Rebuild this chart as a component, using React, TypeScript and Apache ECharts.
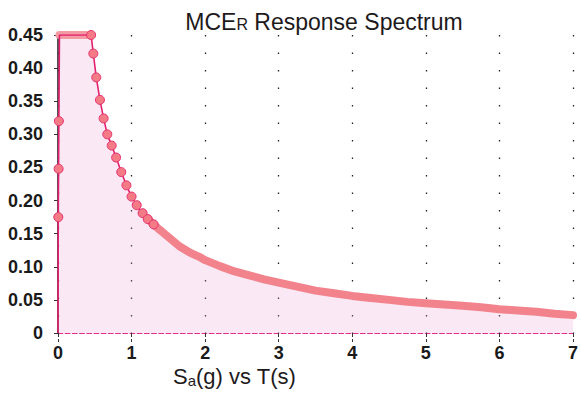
import React, { useEffect, useRef } from "react";
import * as echarts from "echarts";

// Period T (s) and spectral acceleration Sa (g)
const PERIOD_T = [
  0, 0.004, 0.008, 0.012, 0.02, 0.05, 0.1, 0.15, 0.2, 0.25, 0.3, 0.35, 0.4, 0.45,
  0.48, 0.52, 0.57, 0.62, 0.67, 0.73, 0.79, 0.86, 0.93, 1.0, 1.07, 1.15, 1.22, 1.3,
  1.38, 1.5, 1.65, 1.8, 1.92, 2.0, 2.2, 2.4, 2.6, 2.8, 3.0, 3.25, 3.5, 3.75, 4.0,
  4.25, 4.5, 4.75, 5.0, 5.25, 5.5, 5.75, 6.0, 6.25, 6.5, 6.75, 7.0,
];
const SA_G = [
  0, 0.175, 0.248, 0.32, 0.45, 0.45, 0.45, 0.45, 0.45, 0.45, 0.45, 0.45, 0.45, 0.45,
  0.422, 0.386, 0.352, 0.324, 0.3, 0.283, 0.265, 0.243, 0.223, 0.206, 0.193, 0.181, 0.172, 0.164,
  0.156, 0.145, 0.131, 0.121, 0.115, 0.11, 0.101, 0.093, 0.087, 0.081, 0.076, 0.07, 0.064, 0.06, 0.056,
  0.053, 0.05, 0.047, 0.045, 0.043, 0.041, 0.039, 0.036, 0.034, 0.032, 0.029, 0.027,
];
const X_TICKS = [0, 1, 2, 3, 4, 5, 6, 7];
const Y_TICKS = ["0", "0.05", "0.10", "0.15", "0.20", "0.25", "0.30", "0.35", "0.40", "0.45"];

const PLATEAU_START_T = 0.02;
const PLATEAU_END_T = 0.45;
const MARKER_END_T = 1.3;
const BAND_START_T = 1.22;

export default function App() {
  const ref = useRef<HTMLDivElement>(null);
  useEffect(() => {
    if (!ref.current) return;
    const chart = echarts.init(ref.current, undefined, { renderer: "svg" });
    const all = PERIOD_T.map((t, i) => [t, SA_G[i]]);
    const markerData = all
      .filter((p) => p[0] <= MARKER_END_T && !(p[0] > PLATEAU_START_T && p[0] < PLATEAU_END_T))
      .map((p) =>
        p[0] === 0 || p[0] === PLATEAU_START_T ? { value: p, symbol: "none" } : { value: p }
      );
    const plateau = all.filter((p) => p[0] >= PLATEAU_START_T && p[0] <= PLATEAU_END_T);
    const tail = all.filter((p) => p[0] >= BAND_START_T);
    const font = "'Liberation Sans', Arial, Helvetica, sans-serif";
    chart.setOption({
      animation: false,
      backgroundColor: "#ffffff",
      textStyle: { fontFamily: font },
      title: {
        text: "{a|MCE}{b|R}{a| Response Spectrum}",
        left: 319,
        textAlign: "center",
        top: 5,
        textStyle: {
          rich: {
            a: { fontSize: 23, fontWeight: "normal", color: "#1e1a1c", fontFamily: font },
            b: { fontSize: 16, fontWeight: "normal", color: "#1e1a1c", fontFamily: font, padding: [5, 0, 0, 0] },
          },
        },
      },
      grid: { left: 58, right: 5, top: 35, bottom: 61, containLabel: false },
      xAxis: {
        type: "value",
        min: 0,
        max: 7,
        interval: 1,
        axisLine: { show: true, lineStyle: { color: "#e0308a", type: "dashed", width: 1.2 } },
        axisTick: { show: true, length: 9, lineStyle: { color: "#333", type: "dashed" } },
        axisLabel: {
          margin: 11,
          fontSize: 18,
          fontWeight: "bold",
          color: "#1a1a1a",
          formatter: (v: number) => (X_TICKS.includes(v) ? String(v) : ""),
        },
        splitLine: { show: true, lineStyle: { color: "#222", type: [1.5, 16], width: 1.3 } },
      },
      yAxis: {
        type: "value",
        min: 0,
        max: 0.45,
        interval: 0.05,
        axisLine: { show: true, lineStyle: { color: "#1a1a1a", width: 1.5 } },
        axisTick: { show: true, length: 4, lineStyle: { color: "#333" } },
        axisLabel: {
          margin: 15,
          fontSize: 18,
          fontWeight: "bold",
          color: "#1a1a1a",
          formatter: (v: number) => Y_TICKS[Math.round(v / 0.05)] ?? "",
        },
        splitLine: { show: false },
      },
      graphic: [
        {
          type: "text",
          x: 173,
          y: 376,
          style: {
            text: "{a|S}{b|a}{a|(g) vs T(s)}",
            verticalAlign: "middle",
            rich: {
              a: { fontSize: 22, lineHeight: 22, fill: "#1e1a1c", fontFamily: font },
              b: { fontSize: 15, lineHeight: 15, fill: "#1e1a1c", fontFamily: font, padding: [8, 0, 0, 0] },
            },
          },
        },
      ],
      series: [
        {
          type: "line",
          data: all,
          showSymbol: false,
          symbol: "none",
          lineStyle: { width: 0, opacity: 0 },
          areaStyle: { color: "rgba(236,160,212,0.34)" },
          silent: true,
          z: 1,
        },
        {
          type: "line",
          data: plateau,
          symbol: "none",
          lineStyle: { width: 8, color: "#f49aa2", cap: "round", join: "round" },
          z: 3,
        },
        {
          type: "line",
          data: tail,
          symbol: "none",
          lineStyle: { width: 8, color: "#f2838d", cap: "round", join: "round" },
          z: 3,
        },
        {
          type: "line",
          data: markerData,
          symbol: "circle",
          symbolSize: 9,
          showAllSymbol: true,
          lineStyle: { width: 1.6, color: "#e3206f" },
          itemStyle: { color: "#f47a86", borderColor: "#e4306e", borderWidth: 1 },
          z: 4,
        },
      ],
    });
    return () => chart.dispose();
  }, []);
  return (
    <div
      ref={ref}
      style={{ position: "fixed", left: 0, top: 0, width: 581, height: 394 }}
    />
  );
}
